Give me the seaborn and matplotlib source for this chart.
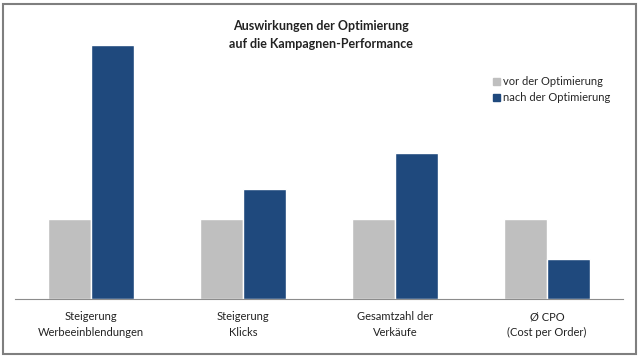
"""Balkendiagramm: Auswirkungen der Optimierung auf die Kampagnen-Performance."""

import matplotlib

matplotlib.use("Agg")
import matplotlib.pyplot as plt
import pandas as pd
import seaborn as sns
from matplotlib.patches import Rectangle

categories = [
    "Steigerung\nWerbeeinblendungen",
    "Steigerung\nKlicks",
    "Gesamtzahl der\nVerkäufe",
    "Ø CPO\n(Cost per Order)",
]
vorher = [100, 100, 100, 100]
nachher = [318, 138, 183, 50]
series = ["vor der Optimierung", "nach der Optimierung"]
colors = ["#BFBFBF", "#1F497D"]

df = pd.DataFrame(
    {
        "Kategorie": categories * 2,
        "Wert": vorher + nachher,
        "Phase": [series[0]] * len(categories) + [series[1]] * len(categories),
    }
)

sns.set_theme(style="white")
plt.rcParams["font.family"] = ["Lato", "DejaVu Sans"]

fig = plt.figure(figsize=(6.4, 3.59), dpi=100)
ax = fig.add_axes([15 / 640, 60 / 359, 608 / 640, 264 / 359])

sns.barplot(
    data=df,
    x="Kategorie",
    y="Wert",
    hue="Phase",
    palette=colors,
    width=0.57,
    saturation=1,
    legend=False,
    ax=ax,
)

ax.set_xlim(-0.5, len(categories) - 0.5)
ax.set_ylim(0, 330)
ax.set_xlabel("")
ax.set_ylabel("")
ax.set_yticks([])

ax.set_xticks(range(len(categories)))
ax.set_xticklabels(categories, fontsize=8, color="#222222", linespacing=1.5)
ax.set_xticks([i - 0.5 for i in range(len(categories) + 1)], minor=True)
ax.tick_params(axis="x", which="major", length=0, pad=9)
ax.tick_params(axis="x", which="minor", length=5, width=0.8, color="#8C8C8C", direction="out")

for side in ["left", "top", "right"]:
    ax.spines[side].set_visible(False)
ax.spines["bottom"].set_color("#8C8C8C")
ax.spines["bottom"].set_linewidth(0.8)

handles = [Rectangle((0, 0), 1, 1, color=c) for c in colors]
fig.legend(
    handles,
    series,
    loc="upper left",
    bbox_to_anchor=(483 / 640, 1 - 66 / 359),
    frameon=False,
    fontsize=8,
    handlelength=0.6,
    handleheight=0.6,
    handletextpad=0.3,
    labelspacing=0.45,
)

fig.text(
    321 / 640,
    1 - 35 / 359,
    "Auswirkungen der Optimierung\nauf die Kampagnen-Performance",
    ha="center",
    va="center",
    fontsize=9,
    fontweight="bold",
    color="#222222",
    linespacing=1.5,
)

fig.patches.append(
    Rectangle(
        (3 / 640, 5 / 359),
        633 / 640,
        350 / 359,
        transform=fig.transFigure,
        fill=False,
        edgecolor="#7F7F7F",
        linewidth=1.5,
    )
)

fig.savefig("out.png", dpi=100)
plt.close(fig)
